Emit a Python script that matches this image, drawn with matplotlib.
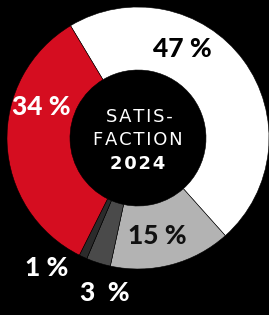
import matplotlib
matplotlib.use("Agg")
import matplotlib.pyplot as plt

# Data
categories = ["Very satisfied", "Satisfied", "Dissatisfied", "Very dissatisfied", "Neutral"]
shares = [47, 15, 3, 1, 34]
labels = ["47 %", "15 %", "3  %", "1 %", "34 %"]
colors = ["#ffffff", "#b3b3b3", "#4a4a4a", "#2b2b2b", "#d50d20"]
label_colors = ["#000000", "#111111", "#ffffff", "#ffffff", "#ffffff"]
# label positions in pixel space (x, y from top)
label_pos = [(182, 49), (157, 236), (105, 293), (47, 268), (41, 107)]

W, H = 269, 315
fig = plt.figure(figsize=(W / 100, H / 100), dpi=100, facecolor="black")
ax = fig.add_axes([0, 0, 1, 1])
ax.set_facecolor("black")

cx, cy, r_out, r_in = 138, H - 138, 131, 68
ax.pie(shares, colors=colors, startangle=121, counterclock=False,
       center=(cx, cy), radius=r_out,
       wedgeprops=dict(width=r_out - r_in, edgecolor="#000000", linewidth=0.4))

for lab, (x, y), c in zip(labels, label_pos, label_colors):
    ax.text(x, H - y, lab, ha="center", va="center", color=c,
            fontsize=19, fontweight="black", family="Lato")


def spaced(s):
    return "\u200a".join(s)


# center title
ax.text(cx + 1, H - 117.5, spaced("SATIS-"), ha="center", va="center", color="white",
        fontsize=13, family="DejaVu Sans")
ax.text(cx, H - 140, spaced("FACTION"), ha="center", va="center", color="white",
        fontsize=13, family="DejaVu Sans")
ax.text(cx, H - 164, spaced("2024"), ha="center", va="center", color="white",
        fontsize=13, fontweight="bold", family="DejaVu Sans")

ax.set_xlim(0, W)
ax.set_ylim(0, H)
ax.set_aspect("auto")
ax.axis("off")

fig.savefig("out.png", dpi=100, facecolor="black")
